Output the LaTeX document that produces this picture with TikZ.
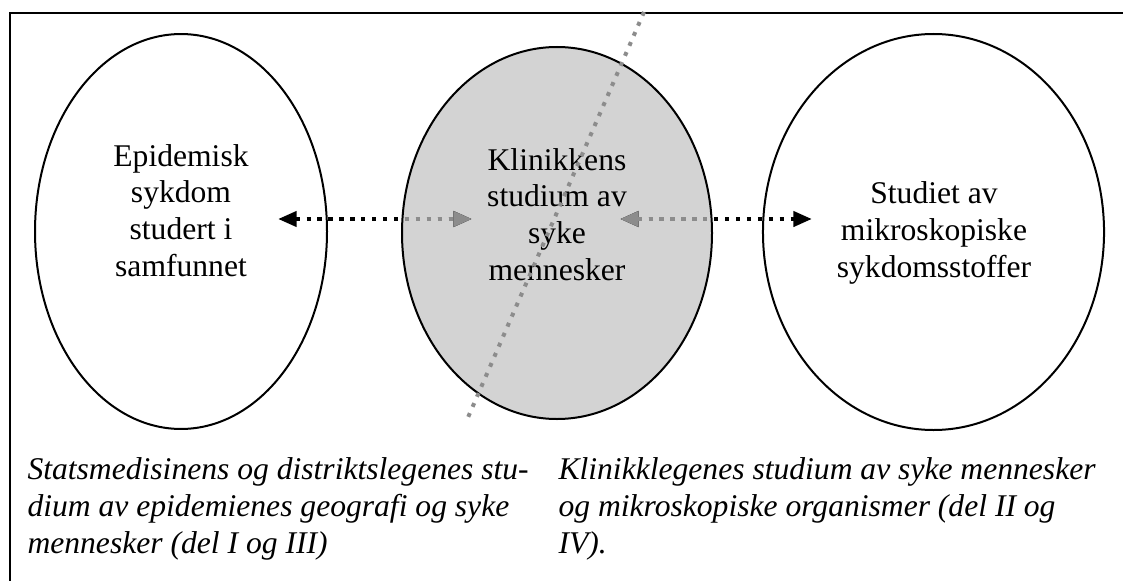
\documentclass[tikz,border=0pt]{standalone}
\usepackage{fontspec}
\setmainfont{Liberation Serif}
\usetikzlibrary{positioning,arrows.meta,shapes.geometric}
\definecolor{DotGray}{HTML}{8C8C8C}
\definecolor{ClinicFill}{HTML}{D3D3D3}

\begin{document}
\begin{tikzpicture}[
  x=0.375pt,y=-0.375pt,
  every node/.style={font=\fontsize{11.85}{13.7}\selectfont},
  field/.style={draw,ellipse,line width=0.75pt,inner sep=0pt,outer sep=0pt},
  etext/.style={align=center,anchor=base,inner sep=0pt},
  note/.style={align=left,anchor=base west,inner sep=0pt,font=\fontsize{11.85}{13.7}\selectfont\itshape},
  arr/.style={{Triangle[length=7pt,width=5.6pt]}-{Triangle[length=7pt,width=5.6pt]},line width=1.6pt,dash pattern=on 1.6pt off 2.5pt},
  split/.style={DotGray,line width=1.5pt,dash pattern=on 1.5pt off 2.6pt}
]
  \useasboundingbox (0,0) rectangle (1123,581);
  \draw[line width=1pt] (10,600) |- (1140,13);

  % the three fields
  \node[field,minimum width=109.5pt,minimum height=148.1pt] (epi) at (181,231.5) {};
  \node[field,fill=ClinicFill,minimum width=116.25pt,minimum height=139.5pt] (clin) at (557,233) {};
  \node[field,minimum width=127.9pt,minimum height=148.5pt] (micro) at (933.5,232) {};

  % arrow ends
  \coordinate (epiend) at (278,219);
  \coordinate (clinL) at (472,219);
  \coordinate (clinR) at (620,219);
  \coordinate (microend) at (812,219);

  \draw[arr] (epiend) -- (clinL);
  \draw[arr] (clinR) -- (microend);
  \begin{scope}
    \path[clip] (clin.center) ellipse [x radius=58.1pt,y radius=69.7pt];
    \draw[arr,DotGray] (epiend) -- (clinL);
    \draw[arr,DotGray] (clinR) -- (microend);
  \end{scope}

  % texts sit on their last baseline
  \node[etext] (epitext) at (181,276) {Epidemisk\\sykdom\\studert i\\samfunnet};
  \node[etext] (clintext) at (557,280) {Klinikkens\\studium av\\syke\\mennesker};
  \node[etext] (microtext) at (934,277) {Studiet av\\mikroskopiske\\sykdomsstoffer};

  % dividing line through the clinic
  \coordinate (divtop) at (644,12);
  \coordinate (divbot) at (466,422);
  \draw[split] (divtop) -- (divbot);

  \node[note] (stat) at (27,553) {Statsmedisinens og distriktslegenes stu-\\dium av epidemienes geografi og syke\\mennesker (del I og III)};
  \node[note] (klin) at (558,553) {Klinikklegenes studium av syke mennesker\\og mikroskopiske organismer (del II og\\IV).};
\end{tikzpicture}
\end{document}
